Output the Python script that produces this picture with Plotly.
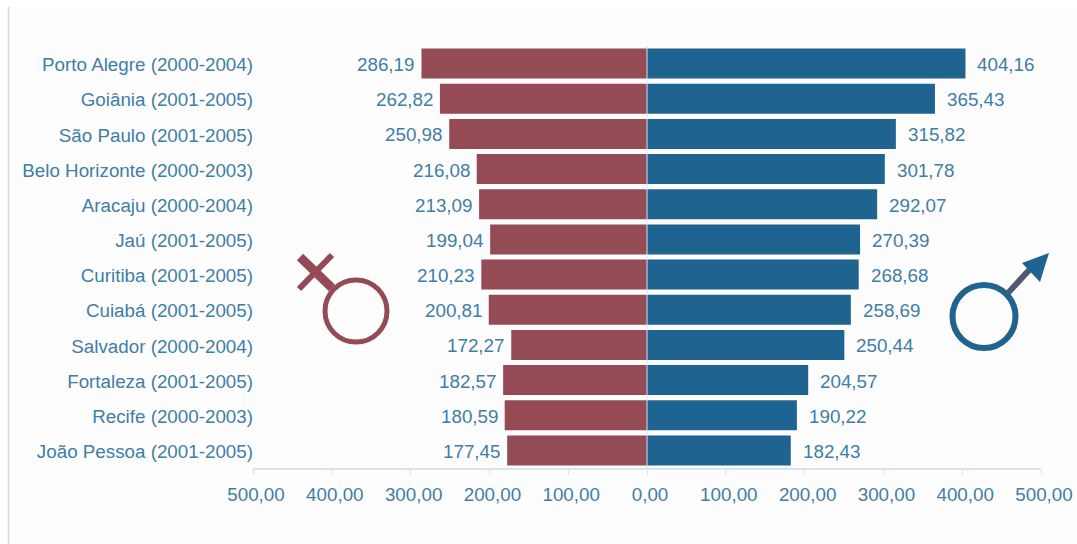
import plotly.graph_objects as go

cities = ["Porto Alegre (2000-2004)", "Goiânia (2001-2005)", "São Paulo (2001-2005)",
          "Belo Horizonte (2000-2003)", "Aracaju (2000-2004)", "Jaú (2001-2005)",
          "Curitiba (2001-2005)", "Cuiabá (2001-2005)", "Salvador (2000-2004)",
          "Fortaleza (2001-2005)", "Recife (2000-2003)", "João Pessoa (2001-2005)"]
women = [286.19, 262.82, 250.98, 216.08, 213.09, 199.04, 210.23, 200.81, 172.27, 182.57, 180.59, 177.45]
men = [404.16, 365.43, 315.82, 301.78, 292.07, 270.39, 268.68, 258.69, 250.44, 204.57, 190.22, 182.43]
tick_values = [-500, -400, -300, -200, -100, 0, 100, 200, 300, 400, 500]
tick_labels = ["500,00", "400,00", "300,00", "200,00", "100,00", "0,00",
               "100,00", "200,00", "300,00", "400,00", "500,00"]

RED, BLUE, TXT, AXIS = "#954b55", "#1f6391", "#3f7ea6", "#d6e4ef"
FONT = "Liberation Sans"
SIZE = 18.8
W, H = 1077, 544
L, R, T, B = 253, 36, 46, 76


def fmt(v):
    return f"{v:.2f}".replace(".", ",")


fig = go.Figure()
fig.add_bar(y=cities, x=[-v for v in women], orientation="h", marker_color=RED,
            marker_line_width=0, hoverinfo="skip")
fig.add_bar(y=cities, x=men, orientation="h", marker_color=BLUE,
            marker_line_width=0, hoverinfo="skip")

ann = []
for c, w, m in zip(cities, women, men):
    ann.append(dict(x=-w, y=c, text=fmt(w), showarrow=False, xanchor="right", xshift=-5, yshift=-1))
    ann.append(dict(x=m, y=c, text=fmt(m), showarrow=False, xanchor="left", xshift=10, yshift=-1))


def px(x):
    return (x - L) / (W - L - R)


def py(y):
    return 1 - (y - T) / (H - T - B)


def circle(cx, cy, r, color, lw):
    return dict(type="circle", xref="paper", yref="paper", x0=px(cx - r), x1=px(cx + r),
                y0=py(cy + r), y1=py(cy - r), line=dict(color=color, width=lw),
                fillcolor="rgba(0,0,0,0)")


def seg(x0, y0, x1, y1, color, lw):
    return dict(type="line", xref="paper", yref="paper", x0=px(x0), y0=py(y0),
                x1=px(x1), y1=py(y1), line=dict(color=color, width=lw))


def tri(points, color):
    d = "M " + " L ".join(f"{px(a):.5f},{py(b):.5f}" for a, b in points) + " Z"
    return dict(type="path", xref="paper", yref="paper", path=d, fillcolor=color,
                line=dict(color=color, width=0))


shapes = [
    dict(type="rect", xref="paper", yref="paper", x0=px(9), x1=px(W), y0=py(H), y1=py(7),
         fillcolor="#fdfdfd", line_width=0, layer="below"),
    seg(8.5, 7, 8.5, 544, "#c9dcec", 1.5),
    dict(type="line", xref="x", yref="paper", x0=0, x1=0, y0=0, y1=1,
         line=dict(color=AXIS, width=1)),
    circle(356, 311, 31, RED, 5),
    seg(332, 288, 300, 257, RED, 9),
    seg(332, 255, 299, 289, RED, 6),
    circle(984, 316.5, 31.5, BLUE, 6),
    seg(1008, 293, 1031, 268, "#4d5a70", 6),
    tri([(1049, 253), (1022, 263), (1040, 282)], BLUE),
]

fig.update_layout(
    width=W, height=H, margin=dict(l=L, r=R, t=T, b=B, pad=0, autoexpand=False),
    barmode="relative", bargap=0.145, showlegend=False,
    paper_bgcolor="#ffffff", plot_bgcolor="rgba(0,0,0,0)",
    font=dict(family=FONT, size=SIZE, color=TXT),
    annotations=ann, shapes=shapes,
    xaxis=dict(range=[-500, 500], tickvals=tick_values, ticktext=tick_labels,
               showgrid=False, zeroline=False, showline=True, linecolor=AXIS, linewidth=1.5,
               ticks="outside", ticklen=5, tickcolor=AXIS, tickwidth=1, automargin=False,
               ticklabelstandoff=4, ticklabelshift=3,
               tickfont=dict(family=FONT, size=SIZE, color=TXT)),
    yaxis=dict(autorange="reversed", showgrid=False, zeroline=False, showline=False,
               ticks="", ticklabelstandoff=-1, ticklabelshift=-1, automargin=False,
               tickfont=dict(family=FONT, size=SIZE, color=TXT)),
)
fig.write_html("out.html", config={"displayModeBar": False},
               post_script="document.body.style.margin='0';")
